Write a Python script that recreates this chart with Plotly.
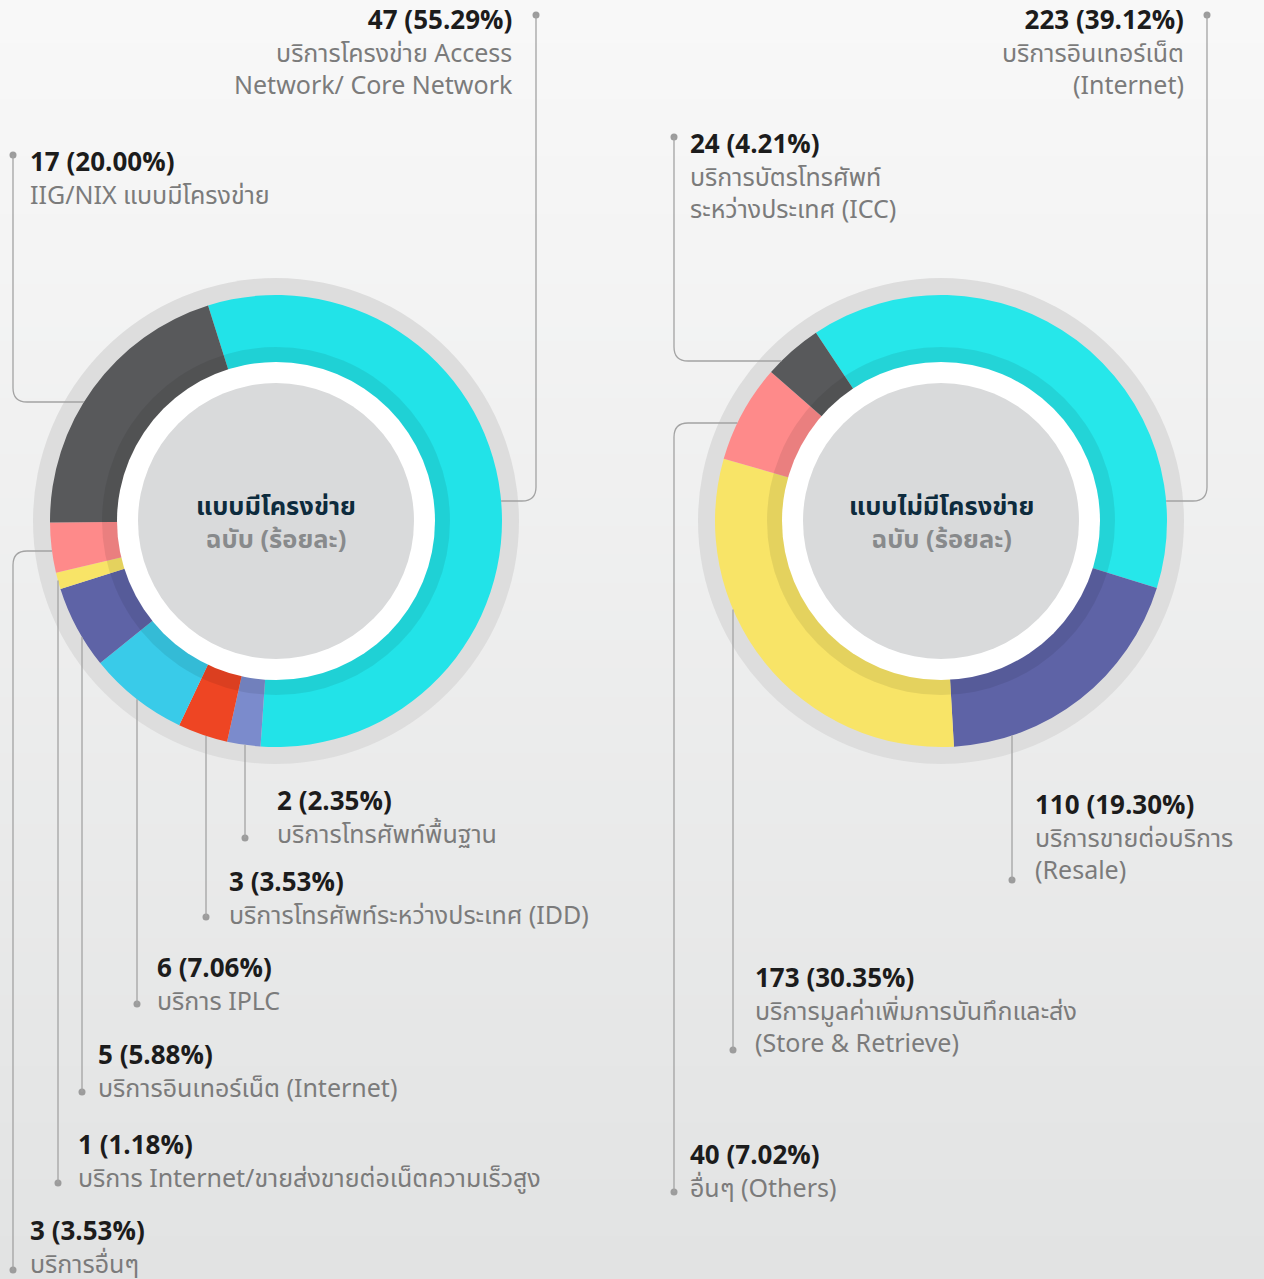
import math
import plotly.graph_objects as go

W, H = 1264, 1279

# ---------------- data ----------------
left_title = "แบบมีโครงข่าย"
right_title = "แบบไม่มีโครงข่าย"
unit_label = "ฉบับ (ร้อยละ)"

left_names = [
    "บริการโครงข่าย Access\nNetwork/ Core Network",
    "บริการโทรศัพท์พื้นฐาน",
    "บริการโทรศัพท์ระหว่างประเทศ (IDD)",
    "บริการ IPLC",
    "บริการอินเทอร์เน็ต (Internet)",
    "บริการ Internet/ขายส่งขายต่อเน็ตความเร็วสูง",
    "บริการอื่นๆ",
    "IIG/NIX แบบมีโครงข่าย",
]
left_counts = [47, 2, 3, 6, 5, 1, 3, 17]
left_pcts = [55.29, 2.35, 3.53, 7.06, 5.88, 1.18, 3.53, 20.00]

right_names = [
    "บริการอินเทอร์เน็ต\n(Internet)",
    "บริการขายต่อบริการ\n(Resale)",
    "บริการมูลค่าเพิ่มการบันทึกและส่ง\n(Store & Retrieve)",
    "อื่นๆ (Others)",
    "บริการบัตรโทรศัพท์\nระหว่างประเทศ (ICC)",
]
right_counts = [223, 110, 173, 40, 24]
right_pcts = [39.12, 19.30, 30.35, 7.02, 4.21]

# ---------------- styles / layout ----------------
left_colors = ["#22e3e8", "#7b8bcc", "#ee4523", "#39cbe9", "#5e63a6", "#f8e467", "#fe8a8a", "#58595b"]
right_colors = ["#26e7ea", "#5e63a6", "#f8e467", "#fe8a8a", "#58595b"]

FONT = "Noto Sans Thai, Noto Sans, Open Sans, sans-serif"
R_OUT, R_BAND, R_WHITE, R_DISK, R_BG = 226, 174, 159, 138, 243
LC = (276, 521)
RC = (941, 521)
LINE_COL = "#a3a3a3"
DOT_COL = "#9c9c9c"
CR = 14          # corner radius of connector lines
DESC_SIZE = 25   # description font size (line spacing = 1.3 * size)

# connector layout for each slice: (kind, coordinate, dot x, dot y, text x, first-line y, anchor)
left_callouts = [
    ("hr", 501, 536, 15, 515, 20, "right"),
    ("v", 245, 245, 838, 275, 802, "left"),
    ("v", 206, 206, 917, 227, 883, "left"),
    ("v", 137, 137, 1004, 155, 969, "left"),
    ("v", 82, 82, 1092, 96, 1056, "left"),
    ("v", 58, 58, 1183, 76, 1146, "left"),
    ("hl", 551, 13, 1270, 28, 1232, "left"),
    ("hl", 402, 13, 155, 28, 163, "left"),
]
right_callouts = [
    ("hr", 501, 1207, 15, 1186, 20, "right"),
    ("v", 1012, 1012, 880, 1033, 805, "left"),
    ("v", 733, 733, 1050, 753, 978, "left"),
    ("hl", 423, 674, 1192, 688, 1156, "left"),
    ("hl", 361, 674, 137, 688, 144, "left"),
]

fig = go.Figure()
shapes = []
annotations = []

# background gradient
N = 90
top, bot = (248, 248, 248), (226, 227, 227)
for i in range(N):
    t = i / (N - 1)
    c = tuple(round(top[k] + (bot[k] - top[k]) * t) for k in range(3))
    shapes.append(dict(type="rect", xref="paper", yref="paper", x0=0, x1=1,
                       y0=1 - (i + 1) / N - 0.001, y1=1 - i / N,
                       fillcolor="rgb(%d,%d,%d)" % c, line_width=0, layer="below"))


def circle(c, r, fill, layer):
    return dict(type="circle", xref="x", yref="y", x0=c[0] - r, x1=c[0] + r,
                y0=c[1] - r, y1=c[1] + r, fillcolor=fill, line_width=0, layer=layer)


def domain(c, r):
    return dict(x=[(c[0] - r) / W, (c[0] + r) / W], y=[1 - (c[1] + r) / H, 1 - (c[1] - r) / H])


def add_donut(c, names, counts, colors, rotation, title):
    shapes.append(circle(c, R_BG, "#dddddd", "below"))
    fig.add_trace(go.Pie(labels=[n.replace("\n", " ") for n in names], values=counts,
                         marker=dict(colors=colors, line=dict(width=0)), sort=False,
                         direction="clockwise", rotation=rotation, hole=0.6,
                         textinfo="none", domain=domain(c, R_OUT), showlegend=False))
    shapes.append(circle(c, R_BAND, "rgba(0,0,0,0.08)", "above"))
    shapes.append(circle(c, R_WHITE, "#ffffff", "above"))
    shapes.append(circle(c, R_DISK, "#d9dadb", "above"))
    annotations.append(dict(
        x=c[0], y=c[1] + 2.5, xref="x", yref="y", showarrow=False, yanchor="middle",
        text="<b>%s</b><br><b><span style='color:#888a8c'>%s</span></b>" % (title, unit_label),
        font=dict(family=FONT, size=25.5, color="#0d2b3d")))


def add_callouts(c, names, counts, pcts, callouts):
    dx, dy = [], []
    for name, cnt, p, co in zip(names, counts, pcts, callouts):
        kind, v, px, py, tx, ty, anchor = co
        if kind == "v":
            y0 = c[1] + math.sqrt(R_OUT ** 2 - (v - c[0]) ** 2)
            path = "M %f %f L %f %f" % (v, y0, px, py)
        else:
            side = 1 if kind == "hr" else -1
            x0 = c[0] + side * math.sqrt(R_OUT ** 2 - (v - c[1]) ** 2)
            vdir = 1 if py > v else -1
            path = "M %f %f L %f %f Q %f %f %f %f L %f %f" % (
                x0, v, px - side * CR, v, px, v, px, v + vdir * CR, px, py)
        shapes.append(dict(type="path", xref="x", yref="y", path=path,
                           line=dict(color=LINE_COL, width=1.3), layer="above"))
        dx.append(px)
        dy.append(py)
        desc = name.split("\n")
        text = ("<b><span style='color:#1c1c1c;font-size:26px'>%d (%.2f%%)</span></b><br>"
                % (cnt, p)) + "<br>".join(desc)
        n = 1 + len(desc)
        annotations.append(dict(
            x=tx, y=ty + (n - 1) * DESC_SIZE * 1.3 / 2, xref="x", yref="y", text=text,
            showarrow=False, xanchor=anchor, yanchor="middle", align=anchor,
            font=dict(family=FONT, size=DESC_SIZE, color="#7b7b7b")))
    fig.add_trace(go.Scatter(x=dx, y=dy, mode="markers", hoverinfo="skip", showlegend=False,
                             marker=dict(size=7, color=DOT_COL)))


add_donut(LC, left_names, left_counts, left_colors, -17.5, left_title)
add_donut(RC, right_names, right_counts, right_colors, -33.6, right_title)
add_callouts(LC, left_names, left_counts, left_pcts, left_callouts)
add_callouts(RC, right_names, right_counts, right_pcts, right_callouts)

fig.update_layout(
    width=W, height=H, margin=dict(l=0, r=0, t=0, b=0),
    paper_bgcolor="#f8f8f8", plot_bgcolor="rgba(0,0,0,0)",
    xaxis=dict(range=[0, W], visible=False, fixedrange=True),
    yaxis=dict(range=[H, 0], visible=False, fixedrange=True),
    shapes=shapes, annotations=annotations, showlegend=False,
)

fig.write_html("out.html", config={"displayModeBar": False},
               post_script="document.body.style.margin='0';")
